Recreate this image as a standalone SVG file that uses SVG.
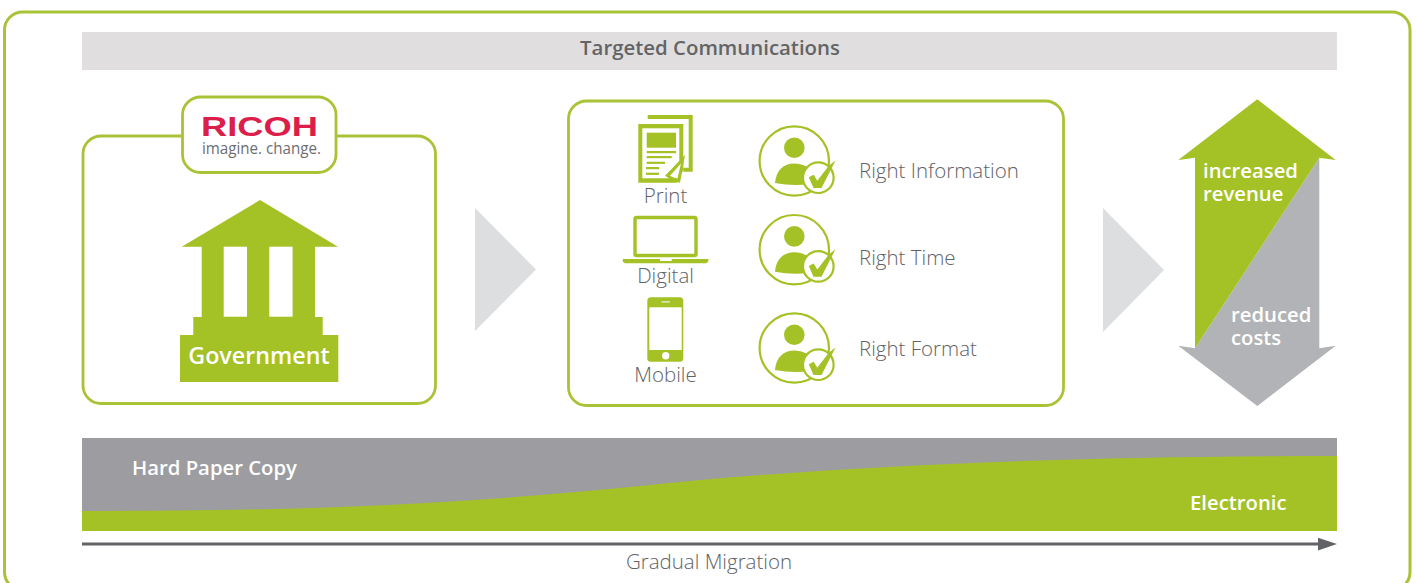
<svg xmlns="http://www.w3.org/2000/svg" xmlns:xlink="http://www.w3.org/1999/xlink" width="1416" height="583" viewBox="0 0 1416 583">
<style>
.panel{fill:#fff;stroke:#a9c337;stroke-width:2.800}
.g{fill:#a4c125}
.t{font-family:"Open Sans","Noto Sans","Liberation Sans",sans-serif;font-weight:300;font-size:20.500px;fill:#616266}
.b{font-family:"Open Sans","Noto Sans","Liberation Sans",sans-serif;font-weight:600;font-size:20.300px;fill:#fff}
.c{text-anchor:middle}
.tri{fill:#dcdee0}
</style>
<defs>
<g id="person">
<circle cx="794.3" cy="161" r="34.7" fill="#fff" stroke="#a4c125" stroke-width="2.200"/>
<circle cx="794.3" cy="147.7" r="10.3" fill="#a4c125"/>
<path d="M775 183C776 170 784 163.5 794 163.5C803 163.5 809 167 812 173L808 184.5C796 185.500 785 185 775 183Z" fill="#a4c125"/>
<circle cx="818.300" cy="177.700" r="15.300" fill="#fff" stroke="#a4c125" stroke-width="2.200"/>
<path d="M808.800 177.300L813.700 174.800L817.300 180.700L829 165.500L835.500 160.500L821.500 188L813.500 188Z" fill="#a4c125"/>
</g>
</defs>
<rect width="1416" height="583" fill="#fff"/>
<rect x="4.500" y="12" width="1405.500" height="578" rx="18" fill="#fff" stroke="#a9c337" stroke-width="3"/>

<g id="banner">
<rect x="82" y="32" width="1255" height="38" fill="#e0dedf"/>
<text class="b c" x="710" y="54.500" style="fill:#636466;font-size:20.400px">Targeted Communications</text>
</g>

<g id="government">
<rect class="panel" x="83" y="136" width="352.500" height="267.500" rx="18"/>
<path class="g" d="M260 200L338 246.700H315V317H322.700V335H338.300V382H180V335H193.300V317H201.700V246.700H181.700Z"/>
<rect x="223.700" y="246.700" width="23.300" height="70" fill="#fff"/>
<rect x="269.300" y="246.700" width="23.300" height="70" fill="#fff"/>
<text class="b c" x="259" y="364" style="font-size:23.300px">Government</text>
</g>

<g id="ricoh-logo">
<rect class="panel" x="182.500" y="97" width="153.500" height="75.500" rx="18"/>
<text x="201" y="136" textLength="117" lengthAdjust="spacingAndGlyphs" style="font-family:'Liberation Sans',sans-serif;font-weight:700;font-size:28px;fill:#dc1e4a">RICOH</text>
<text x="202" y="154" textLength="119" lengthAdjust="spacingAndGlyphs" style="font-family:'Open Sans',sans-serif;font-weight:400;font-size:15.500px;fill:#6d6e71">imagine. change.</text>
</g>

<g id="channels-panel">
<rect class="panel" x="568.500" y="101" width="495" height="304.500" rx="18"/>
</g>

<g id="print">
<path class="g" d="M647.700 115H692.700V171.700H683.300V167.700H688.700V119H647.700Z"/>
<path class="g" d="M638.300 124H683.300V170L677 182.700H638.300Z"/>
<rect x="642.300" y="128.300" width="37" height="50" fill="#fff"/>
<rect class="g" x="646.700" y="132.700" width="29.300" height="15"/>
<g fill="#a4c125">
<rect x="646.700" y="151" width="29.300" height="2.200"/>
<rect x="646.700" y="156" width="25" height="2.200"/>
<rect x="646.700" y="161.700" width="18.300" height="2.200"/>
<rect x="646" y="167" width="13" height="2.200"/>
<rect x="646" y="172.700" width="13" height="2.200"/>
</g>
<path class="g" d="M665 175.700L685 155L680 182.700L673 181Z"/>
<path d="M670 175.700L681 163.500L677.500 178.500L673.500 177.500Z" fill="#fff"/>
<text class="t c" x="665.500" y="203">Print</text>
</g>

<g id="digital">
<rect x="635" y="217.500" width="61" height="38" rx="1.500" fill="#fff" stroke="#a4c125" stroke-width="3.400"/>
<path class="g" d="M622.700 259H708.700L708 262L706 263.300H625L623 262Z"/>
<rect x="660" y="259" width="11.700" height="2" fill="#fff"/>
<text class="t c" x="665.500" y="283">Digital</text>
</g>

<g id="mobile">
<rect class="g" x="647.300" y="297.300" width="36" height="64.400" rx="3.500"/>
<rect x="649.300" y="307.300" width="32.400" height="42.700" fill="#fff"/>
<rect x="661.500" y="301.200" width="8.500" height="1.400" fill="#fff" opacity=".7"/>
<circle cx="665.700" cy="355.700" r="3.700" fill="#fff"/>
<text class="t c" x="665.500" y="382">Mobile</text>
</g>

<g id="right-information">
<use href="#person"/>
<text class="t" x="859" y="178">Right Information</text>
</g>
<g id="right-time">
<use href="#person" y="88.700"/>
<text class="t" x="859" y="265">Right Time</text>
</g>
<g id="right-format">
<use href="#person" y="187"/>
<text class="t" x="859" y="356">Right Format</text>
</g>

<g id="connectors">
<path class="tri" d="M475 208L536 269.500L475 331Z"/>
<path class="tri" d="M1103 208L1164 270L1103 332Z"/>
<path d="M82 544H1320" stroke="#626366" stroke-width="3" fill="none"/>
<path d="M1318 537.700L1337 544L1318 550.500Z" fill="#626366"/>
</g>

<g id="outcome-arrow">
<path d="M1319.300 157.700V348.300L1335.700 345.700L1257.300 406L1178.300 345.700L1195 348.300Z" fill="#b1b3b6"/>
<path class="g" d="M1257.300 99.300L1335.700 160L1319.300 157.700L1195 348.300V157.700L1178.300 160Z"/>
<text class="b" x="1203" y="178">increased</text>
<text class="b" x="1203" y="201">revenue</text>
<text class="b" x="1231" y="322">reduced</text>
<text class="b" x="1231" y="345">costs</text>
</g>

<g id="migration-band">
<rect x="82" y="438" width="1255" height="93" fill="#9d9da1"/>
<path d="M82 511C300 511 450 505 640 486C820 467 1050 456 1337 456V531H82Z" fill="#a4c125"/>
<text class="b" x="132" y="475">Hard Paper Copy</text>
<text class="b" x="1190" y="510">Electronic</text>
</g>
<g id="migration-label">
<text class="t c" x="709" y="569">Gradual Migration</text>
</g>
</svg>
